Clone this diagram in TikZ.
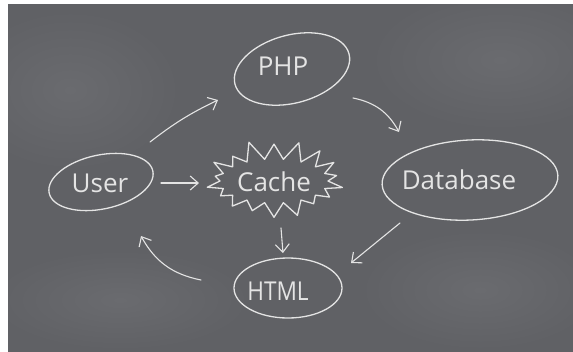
\documentclass[tikz,border=0pt]{standalone}
\usepackage{fontspec}
\setmainfont{Open Sans}
\usetikzlibrary{shapes.geometric,shapes.symbols,arrows.meta,calc}
\definecolor{board}{RGB}{96,97,101}
\definecolor{dust}{RGB}{106,107,111}
\definecolor{chalk}{RGB}{228,228,228}
\begin{document}
\begin{tikzpicture}[x=1pt,y=-1pt,
  chalkline/.style={draw=chalk, line width=1.3pt, line cap=round, line join=round},
  bubble/.style={chalkline, ellipse, inner sep=0pt},
  word/.style={text=chalk, font=\fontsize{26}{30}\selectfont, inner sep=0pt},
  smudge/.style={inner color=dust, outer color=board},
  flow/.style={chalkline, line width=1.1pt, -{Straight Barb[length=8pt,width=14pt]}}]
\useasboundingbox (0,0) rectangle (573,351);
% board with its white frame
\fill[white] (-5,-5) rectangle (580,360);
\fill[board] (8,4) rectangle (580,360);
% soft chalk dust on the board
\begin{scope}
  \clip (8,4) rectangle (580,360);
  \shade[smudge] (70,90) ellipse (110pt and 80pt);
  \shade[smudge] (500,60) ellipse (130pt and 70pt);
  \shade[smudge] (480,290) ellipse (120pt and 60pt);
  \shade[smudge] (120,300) ellipse (130pt and 50pt);
\end{scope}

% bubbles
\node[bubble, minimum width=118pt, minimum height=68pt, rotate=15] (php) at (292,69) {};
\node[bubble, minimum width=106pt, minimum height=54pt, rotate=12] (user) at (101,182) {};
\node[bubble, minimum width=176pt, minimum height=80pt, rotate=3] (db) at (470,180) {};
\node[bubble, minimum width=108pt, minimum height=60pt] (html) at (288,288) {};
\node[starburst, chalkline, starburst points=18, starburst point height=20pt,
      random starburst=11, minimum width=148pt, minimum height=84pt] (cache) at (274,181) {};

% labels
\node[word] (phpt) at (283,66) {PHP};
\node[word] (usert) at (100,183) {User};
\node[word] (dbt) at (459,180) {Database};
\node[word] (htmlt) at (278,291) {\scalebox{0.87}[1]{HTML}};
\node[word] (cachet) at (274,182) {Cache};

% flow arrows
\draw[flow] ($(user.center)+(49,-40)$) to[bend left=6] ($(php.center)+(-74,31)$);
\draw[flow] ($(php.center)+(61,29)$) to[bend left=25] ($(db.center)+(-71,-48)$);
\draw[flow] ($(user.center)+(60,1)$) -- ($(cache.center)+(-75,2)$);
\draw[flow] ($(cache.center)+(7,47)$) -- ($(html.center)+(-5,-35)$);
\draw[flow] ($(db.center)+(-70,43)$) -- ($(html.center)+(63,-25)$);
\draw[flow] ($(html.center)+(-87,-8)$) to[bend left=25] ($(user.center)+(40,54)$);
\end{tikzpicture}
\end{document}
